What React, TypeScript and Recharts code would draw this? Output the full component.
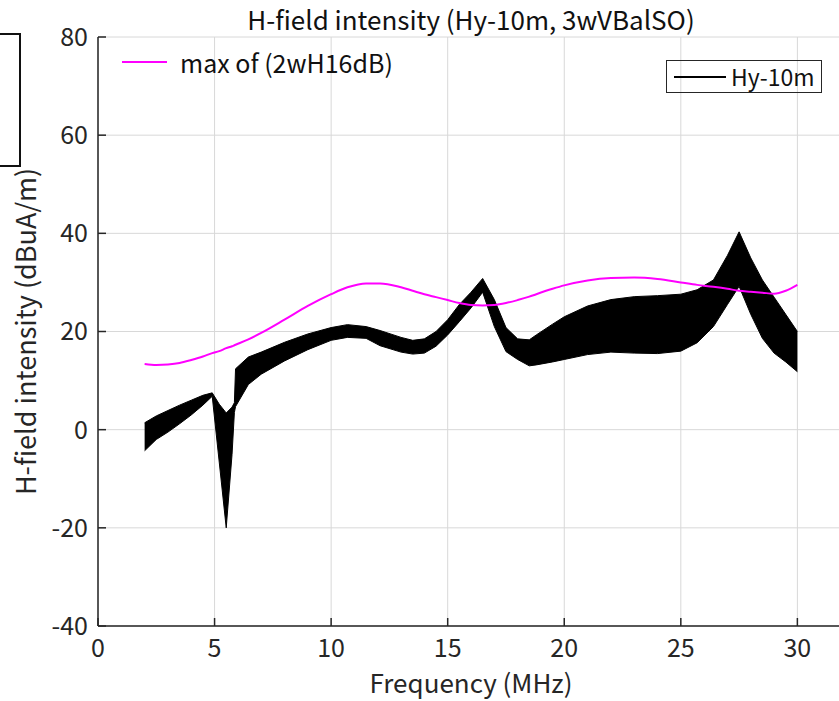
import {
  Area,
  CartesianGrid,
  ComposedChart,
  Legend,
  Line,
  XAxis,
  YAxis,
} from "recharts";

const FONT = "'Noto Sans CJK JP', 'Noto Sans', sans-serif";

// frequency samples (MHz)
const freq = [
  2, 2.5, 3, 3.5, 4, 4.5, 4.9, 5.2, 5.5, 5.75, 5.85, 5.9, 6.45, 7, 8, 9, 10,
  10.7, 11.5, 12.1, 13, 13.5, 14, 14.5, 15, 15.5, 16, 16.5, 17, 17.5, 18, 18.5,
  18.8, 19.5, 20, 21, 22, 23, 24, 25, 25.7, 26.4, 27, 27.5, 28, 28.5, 29, 29.5,
  30,
];

// Hy-10m envelope, lower edge (dBuA/m)
const hyLow = [
  -4.3, -2.0, -0.5, 1.2, 3.0, 5.0, 6.8, -6.6, -20, -5, 3.5, 4.7, 9.2, 11.3,
  14.0, 16.3, 18.2, 18.8, 18.6, 17.1, 15.8, 15.4, 15.6, 17.0, 19.3, 22.0, 24.8,
  28.0, 21.0, 15.9, 14.3, 13.0, 13.2, 13.8, 14.3, 15.3, 15.8, 15.6, 15.5, 16.0,
  17.7, 21.0, 25.5, 29.2, 23.5, 18.6, 15.6, 13.8, 11.8,
];

// Hy-10m envelope, upper edge (dBuA/m)
const hyHigh = [
  1.4, 2.8, 3.9, 5.0, 6.0, 7.0, 7.5, 5.2, 3.4, 4.6, 5.5, 12.4, 14.8, 15.8,
  17.8, 19.5, 20.8, 21.4, 21.0, 20.2, 18.8, 18.2, 18.5, 20.0, 22.4, 25.5, 28.0,
  30.8, 26.5, 20.8, 18.5, 18.3, 19.3, 21.5, 23.0, 25.2, 26.5, 27.1, 27.3, 27.6,
  28.5, 30.5, 35.5, 40.3, 35.0, 30.5, 27.0, 23.5, 20.0,
];

// max of (2wH16dB)
const maxRef = [
  13.4, 13.2, 13.3, 13.6, 14.2, 14.9, 15.6, 16.0, 16.6, 17.0, 17.2, 17.3, 18.4,
  19.7, 22.4, 25.2, 27.6, 29.0, 29.8, 29.8, 29.0, 28.3, 27.6, 27.0, 26.4, 25.8,
  25.4, 25.3, 25.4, 25.8, 26.4, 27.1, 27.6, 28.7, 29.4, 30.4, 30.9, 31.0, 30.7,
  30.0, 29.5, 29.1, 28.7, 28.3, 28.1, 27.9, 27.7, 28.3, 29.5,
];

const xTicks = [0, 5, 10, 15, 20, 25, 30];
const yTicks = [-40, -20, 0, 20, 40, 60, 80];

const data = freq.map((f, i) => ({
  f,
  band: [hyLow[i], hyHigh[i]],
  maxRef: maxRef[i],
}));

const AXIS = "#262626";
const tickStyle = { fill: AXIS, fontSize: 25, fontFamily: FONT };
const labelStyle = { fill: AXIS, fontSize: 25, fontFamily: FONT };

export default function App() {
  return (
    <div
      style={{
        position: "fixed",
        left: 0,
        top: 0,
        width: 839,
        height: 701,
        overflow: "hidden",
        background: "#fff",
        fontFamily: FONT,
      }}
    >
      {/* clipped box at the left edge */}
      <div
        style={{
          position: "absolute",
          left: -12,
          top: 33,
          width: 33,
          height: 134,
          boxSizing: "border-box",
          border: "2px solid #111",
        }}
      />
      <div
        style={{
          position: "absolute",
          left: 98,
          width: 746,
          top: 6,
          textAlign: "center",
          fontSize: 26,
          lineHeight: 1,
          color: "#111",
          whiteSpace: "nowrap",
        }}
      >
        H-field intensity (Hy-10m, 3wVBalSO)
      </div>
      <ComposedChart
        width={870}
        height={701}
        data={data}
        margin={{ top: 37, right: 26, bottom: 0, left: 0 }}
      >
        <CartesianGrid stroke="#d8d8d8" strokeWidth={1} />
        <XAxis
          xAxisId="top"
          orientation="top"
          dataKey="f"
          type="number"
          domain={[0, 32]}
          ticks={xTicks}
          height={0}
          tickSize={-8}
          tickFormatter={() => ""}
          stroke={AXIS}
          strokeWidth={1.5}
        />
        <XAxis
          dataKey="f"
          type="number"
          domain={[0, 32]}
          ticks={xTicks}
          height={75}
          tickSize={-8}
          tickMargin={21}
          tick={tickStyle}
          stroke={AXIS}
          strokeWidth={1.5}
          label={{
            value: "Frequency (MHz)",
            position: "insideBottom",
            offset: 8,
            style: { ...labelStyle, fontSize: 26 },
          }}
        />
        <YAxis
          type="number"
          domain={[-40, 80]}
          ticks={yTicks}
          width={98}
          tickSize={-8}
          tickMargin={18}
          tick={tickStyle}
          stroke={AXIS}
          strokeWidth={1.5}
          label={{
            value: "H-field intensity (dBuA/m)",
            angle: -90,
            position: "insideLeft",
            offset: 26,
            style: { ...labelStyle, fontSize: 27, textAnchor: "middle" },
          }}
        />
        <Area
          dataKey="band"
          name="Hy-10m"
          type="linear"
          stroke="#000"
          strokeWidth={1}
          fill="#000"
          fillOpacity={1}
          isAnimationActive={false}
        />
        <Line
          dataKey="maxRef"
          name="max of (2wH16dB)"
          type="monotone"
          stroke="#ff00ff"
          strokeWidth={2}
          dot={false}
          isAnimationActive={false}
        />
        <Legend
          layout="horizontal"
          verticalAlign="middle"
          wrapperStyle={{ top: 0, left: 0, width: 0, height: 0 }}
          content={({ payload }) => {
            const mag = payload?.find((p) => p.value === "max of (2wH16dB)");
            const hy = payload?.find((p) => p.value === "Hy-10m");
            return (
              <div style={{ fontFamily: FONT, color: "#111" }}>
                {mag && (
                  <div
                    style={{
                      position: "absolute",
                      left: 122,
                      top: 47,
                      height: 30,
                      display: "flex",
                      alignItems: "center",
                      whiteSpace: "nowrap",
                      fontSize: 25,
                      lineHeight: 1,
                    }}
                  >
                    <span
                      style={{
                        width: 45,
                        height: 2,
                        background: mag.color,
                        marginRight: 13,
                      }}
                    />
                    {mag.value}
                  </div>
                )}
                {hy && (
                  <div
                    style={{
                      position: "absolute",
                      left: 666,
                      top: 60,
                      width: 156,
                      height: 33,
                      boxSizing: "border-box",
                      border: `1px solid ${AXIS}`,
                      display: "flex",
                      alignItems: "center",
                      whiteSpace: "nowrap",
                      fontSize: 23,
                      lineHeight: 1,
                    }}
                  >
                    <span
                      style={{
                        width: 52,
                        height: 2,
                        background: "#000",
                        marginLeft: 7,
                        marginRight: 5,
                      }}
                    />
                    {hy.value}
                  </div>
                )}
              </div>
            );
          }}
        />
      </ComposedChart>
    </div>
  );
}
